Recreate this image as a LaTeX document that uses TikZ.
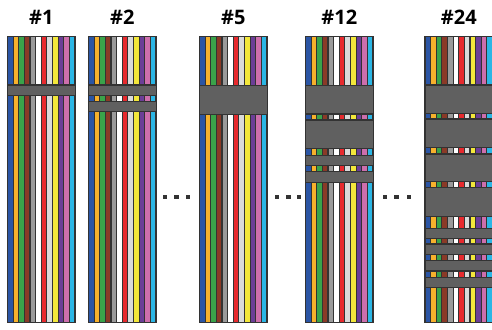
\documentclass[tikz,border=0pt]{standalone}
\usepackage{fontspec}
\setmainfont{Open Sans}
\usepackage{tikz}

\definecolor{wblue}{HTML}{2B55A4}
\definecolor{worange}{HTML}{F7B12C}
\definecolor{wgreen}{HTML}{3AA34A}
\definecolor{wbrown}{HTML}{8A3A27}
\definecolor{wgray}{HTML}{9A9A9A}
\definecolor{wwhite}{HTML}{FFFFFF}
\definecolor{wred}{HTML}{E72A2E}
\definecolor{wlight}{HTML}{DADADA}
\definecolor{wyellow}{HTML}{F3E73B}
\definecolor{wpurple}{HTML}{6B3E97}
\definecolor{wpink}{HTML}{CD6FAC}
\definecolor{wcyan}{HTML}{2BB6E5}
\definecolor{bandgray}{HTML}{606060}
\definecolor{edge}{HTML}{333333}

% one ribbon cable: #1 = left edge, #2 = list of bands top/bottom
\newcommand{\wirepanel}[2]{
  \foreach \c [count=\i from 0] in {wblue,worange,wgreen,wbrown,wgray,wwhite,wred,wlight,wyellow,wpurple,wpink,wcyan}
    \fill[\c] (#1+\i*5.625,36.7) rectangle ++(5.625,286);
  \foreach \i in {1,...,11}
    \draw[sep] (#1+\i*5.625,36.7) -- ++(0,286);
  \draw[frame] (#1,36.7) rectangle ++(67.5,286);
  \foreach \a/\b in {#2}
    \draw[band] (#1+0.3,\a) rectangle (#1+68.2,\b);
}

\begin{document}
\begin{tikzpicture}[x=1pt, y=-1pt,
  frame/.style={draw=edge, line width=1.4pt},
  sep/.style={draw=edge, line width=1.2pt},
  band/.style={draw=edge, fill=bandgray, line width=1.3pt},
  title/.style={font=\fontsize{20}{20}\selectfont\bfseries, anchor=base, inner sep=0pt},
  dot/.style={fill=edge}
]
\useasboundingbox (0,0) rectangle (492,329);

\wirepanel{7.5}{85/95.7}
\wirepanel{88.5}{85/95.7, 101.7/111.7}
\wirepanel{199.5}{85.3/114.3}
\wirepanel{305.5}{85.7/114, 120/148.3, 155.7/165.7, 171.7/182.7}
\wirepanel{425}{85/113.3, 119/147.7, 154/181.7, 187.7/216.7, 228.3/238.3, 244/254.3, 260.7/271, 277.7/287.7}

\node[title] (t1) at (41.3,25) {\#1};
\node[title] (t2) at (122.3,25) {\#2};
\node[title] (t5) at (233.3,25) {\#5};
\node[title] (t12) at (339.3,25) {\#12};
\node[title] (t24) at (458.8,25) {\#24};

% the dots
\foreach \x in {164.7,176.3,187.9, 277.1,288.3,299.1, 384.7,396.3,408.7}
  \fill[dot] (\x-2.2,194.5) rectangle ++(4.4,4.4);
\end{tikzpicture}
\end{document}
